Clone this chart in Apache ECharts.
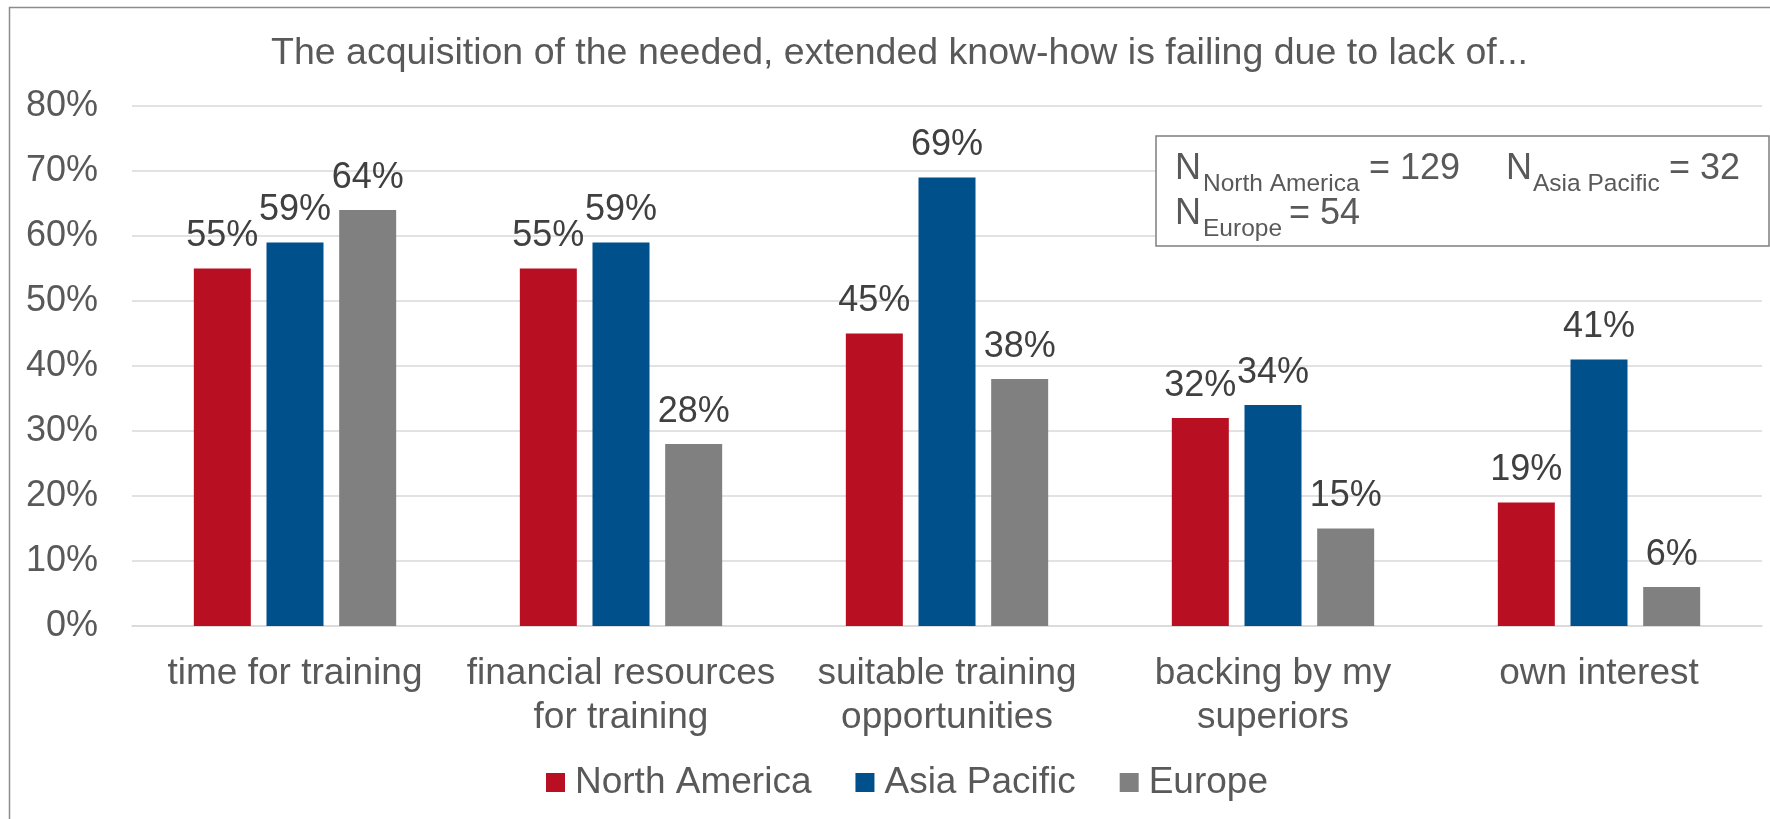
<!DOCTYPE html>
<html>
<head>
<meta charset="utf-8">
<title>Know-how acquisition barriers</title>
<script src="https://cdn.jsdelivr.net/npm/echarts@6/dist/echarts.min.js"></script>
<style>
  html, body { margin: 0; padding: 0; background: #ffffff; }
  #chart { width: 1770px; height: 819px; }
</style>
</head>
<body>
<div id="chart"></div>
<script>
// Reasons why acquiring the needed know-how fails, share of respondents (%)
const categories = [
  'time for training',
  'financial resources\nfor training',
  'suitable training\nopportunities',
  'backing by my\nsuperiors',
  'own interest'
];
const northAmerica = [55, 55, 45, 32, 19];
const asiaPacific  = [59, 59, 69, 34, 41];
const europe       = [64, 28, 38, 15, 6];

const seriesNames = ['North America', 'Asia Pacific', 'Europe'];
const sampleSizes = [129, 32, 54];

const chartTitle = 'The acquisition of the needed, extended know-how is failing due to lack of...';

const FONT = "'Liberation Sans', Arial, sans-serif";
const colors = ['#B80F22', '#00508B', '#808080'];

const chart = echarts.init(document.getElementById('chart'), null, { renderer: 'canvas' });

function barSeries(name, data, color) {
  return {
    name: name,
    type: 'bar',
    data: data,
    barWidth: 57,
    barGap: '27.5%',
    itemStyle: { color: color },
    label: {
      show: true,
      position: 'top',
      distance: 14,
      formatter: '{c}%',
      fontFamily: FONT,
      fontSize: 36,
      color: '#404040'
    },
    emphasis: { disabled: true }
  };
}

// Sample-size note: "N" with subscripted region names
function nText(x, y, text, size) {
  return {
    type: 'text',
    x: x,
    y: y,
    style: {
      text: text,
      fontFamily: FONT,
      fontSize: size,
      fill: '#595959',
      align: 'left',
      verticalAlign: 'middle'
    },
    z: 20
  };
}

const option = {
  backgroundColor: '#ffffff',
  animation: false,
  color: colors,
  title: {
    text: chartTitle,
    left: 271,
    top: 35,
    padding: 0,
    textStyle: {
      fontFamily: FONT,
      fontSize: 37.5,
      fontWeight: 'normal',
      color: '#595959'
    }
  },
  grid: {
    left: 132,
    right: 8,
    top: 106,
    bottom: 193,
    containLabel: false
  },
  legend: {
    data: seriesNames,
    left: 541,
    top: 759,
    icon: 'rect',
    itemWidth: 19,
    itemHeight: 19,
    itemGap: 44,
    selectedMode: false,
    textStyle: {
      fontFamily: FONT,
      fontSize: 37,
      color: '#595959',
      padding: [0, 0, 0, 5]
    }
  },
  xAxis: {
    type: 'category',
    data: categories,
    axisTick: { show: false },
    axisLine: { show: true, lineStyle: { color: '#d9d9d9', width: 1.5 } },
    axisLabel: {
      margin: 26,
      interval: 0,
      fontFamily: FONT,
      fontSize: 37,
      lineHeight: 44,
      color: '#595959',
      align: 'center'
    }
  },
  yAxis: {
    type: 'value',
    min: 0,
    max: 80,
    interval: 10,
    axisLine: { show: false },
    axisTick: { show: false },
    splitLine: { show: true, lineStyle: { color: '#d9d9d9', width: 1.5 } },
    axisLabel: {
      formatter: '{value}%',
      margin: 34,
      fontFamily: FONT,
      fontSize: 36,
      color: '#595959'
    }
  },
  series: [
    barSeries(seriesNames[0], northAmerica, colors[0]),
    barSeries(seriesNames[1], asiaPacific, colors[1]),
    barSeries(seriesNames[2], europe, colors[2])
  ],
  graphic: [
    // outer frame of the chart area
    {
      type: 'rect',
      left: 7,
      top: 5,
      shape: { width: 1800, height: 900 },
      style: { fill: 'none', stroke: '#8c8c8c', lineWidth: 1.5 },
      silent: true,
      z: 0
    },
    // box holding the sample sizes
    {
      type: 'rect',
      x: 1156,
      y: 136,
      shape: { width: 613, height: 110 },
      style: { fill: '#ffffff', stroke: '#7f7f7f', lineWidth: 1.5 },
      z: 10
    },
    nText(1175, 169, 'N', 36),
    nText(1203, 184, seriesNames[0], 24.5),
    nText(1369, 169, '= ' + sampleSizes[0], 36),
    nText(1506, 169, 'N', 36),
    nText(1533, 184, seriesNames[1], 24.5),
    nText(1669, 169, '= ' + sampleSizes[1], 36),
    nText(1175, 214, 'N', 36),
    nText(1203, 229, seriesNames[2], 24.5),
    nText(1289, 214, '= ' + sampleSizes[2], 36)
  ]
};

chart.setOption(option);
</script>
</body>
</html>
